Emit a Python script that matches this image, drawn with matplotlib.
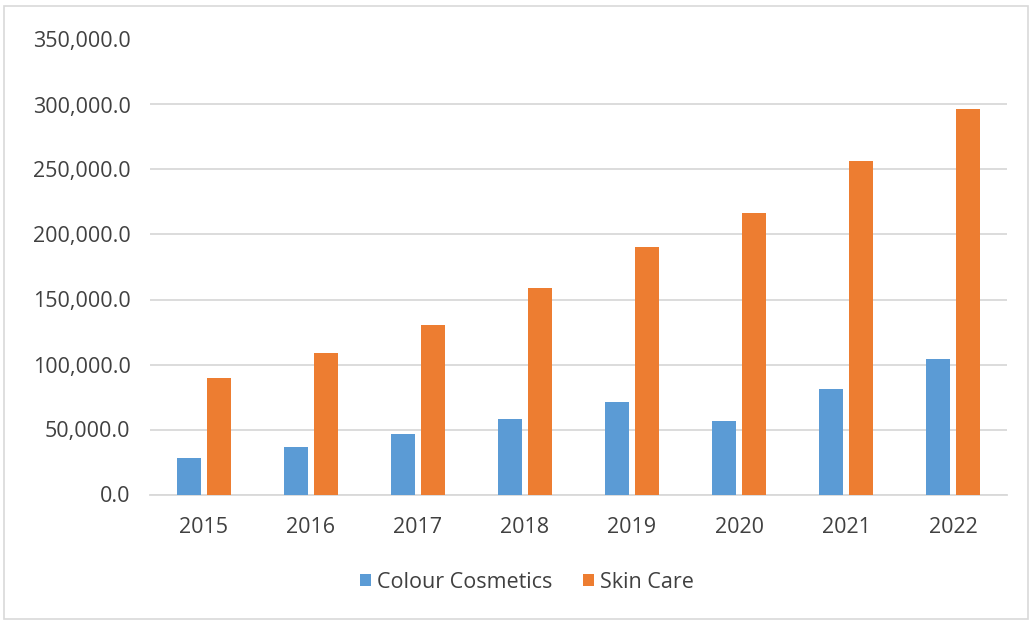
import matplotlib
matplotlib.use("Agg")
import matplotlib.pyplot as plt
import numpy as np
from matplotlib.patches import Rectangle
from matplotlib.ticker import FuncFormatter

years = ["2015", "2016", "2017", "2018", "2019", "2020", "2021", "2022"]
colour_cosmetics = [28300, 36500, 46500, 58000, 71200, 56300, 81200, 104500]
skin_care = [89600, 109000, 130600, 158800, 190400, 216800, 256500, 296300]
series_names = ["Colour Cosmetics", "Skin Care"]
y_ticks = [0, 50000, 100000, 150000, 200000, 250000, 300000, 350000]

plt.rcParams['font.family'] = ['Open Sans', 'DejaVu Sans']

fig = plt.figure(figsize=(10.32, 6.22), dpi=100)
fig.patch.set_facecolor("white")
fig.add_artist(Rectangle((4/1032, 3/622), 1 - 8/1032, 1 - 9/622, transform=fig.transFigure,
                         fill=False, edgecolor="#D9D9D9", linewidth=1.2))

ax = fig.add_axes([150/1032, 1 - 494.5/622, (1007-150)/1032, (494.5-39.5)/622])
x = np.arange(len(years))
w = 0.225
off = 0.14
ax.bar(x - off, colour_cosmetics, width=w, color="#5B9BD5", label=series_names[0], zorder=3)
ax.bar(x + off, skin_care, width=w, color="#ED7D31", label=series_names[1], zorder=3)

ax.set_xlim(-0.5, len(years) - 0.5)
ax.set_ylim(0, 350000)
ax.set_yticks(y_ticks)
ax.yaxis.set_major_formatter(FuncFormatter(lambda v, p: f"{v:,.1f}"))
ax.set_xticks(x)
ax.set_xticklabels(years)
ax.grid(axis="y", color="#D9D9D9", linewidth=1.3, zorder=0)
for s in ["top", "right", "left"]:
    ax.spines[s].set_visible(False)
ax.spines["bottom"].set_color("#D9D9D9")
ax.spines["bottom"].set_linewidth(1.3)
ax.tick_params(axis="both", length=0, labelsize=15.5, colors="#404040")
ax.tick_params(axis="y", pad=14)
ax.tick_params(axis="x", pad=16)

leg = fig.legend(loc="center", bbox_to_anchor=(527/1032, 1 - 582/622), ncol=2, frameon=False,
                 fontsize=15.5, handlelength=0.5, handleheight=0.5, handletextpad=0.3,
                 columnspacing=1.4, labelcolor="#404040")

fig.savefig("out.png", dpi=100, facecolor="white")
